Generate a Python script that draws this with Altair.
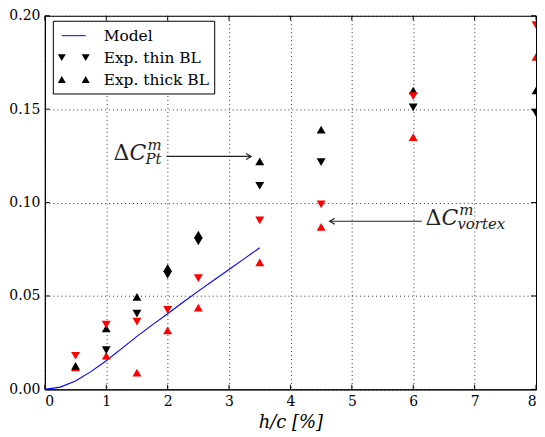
import altair as alt
import pandas as pd

# ---------------- data ----------------
x_ticks = [0, 1, 2, 3, 4, 5, 6, 7, 8]
y_ticks = [0.0, 0.05, 0.10, 0.15, 0.20]

model_x = [0.0, 0.25, 0.5, 0.75, 1.0, 1.25, 1.5, 1.75, 2.0, 2.25, 2.5, 2.75, 3.0, 3.25, 3.5]
model_y = [0.0, 0.0012, 0.0045, 0.0095, 0.0153, 0.0218, 0.0284, 0.0345, 0.0405,
           0.0466, 0.0526, 0.0584, 0.0642, 0.0700, 0.0758]

# thin BL (down triangles): black = Pt, red = vortex
thin_pt_x = [1.0, 1.5, 2.0, 2.5, 3.5, 4.5, 6.0, 8.0]
thin_pt_y = [0.021, 0.0405, 0.0613, 0.0792, 0.109, 0.1216, 0.151, 0.148]
thin_vx_x = [0.5, 1.0, 1.5, 2.0, 2.5, 3.5, 4.5, 6.0, 8.0]
thin_vx_y = [0.018, 0.0347, 0.0363, 0.0426, 0.0595, 0.0905, 0.099, 0.157, 0.195]
# thick BL (up triangles)
thick_pt_x = [0.5, 1.0, 1.5, 2.0, 2.5, 3.5, 4.5, 6.0, 8.0]
thick_pt_y = [0.0126, 0.0326, 0.0495, 0.065, 0.0829, 0.122, 0.139, 0.160, 0.160]
thick_vx_x = [0.5, 1.0, 1.5, 2.0, 2.5, 3.5, 4.5, 6.0, 8.0]
thick_vx_y = [0.0117, 0.018, 0.009, 0.0316, 0.0437, 0.068, 0.087, 0.135, 0.178]

legend_names = ["Model", "Exp. thin BL", "Exp. thick BL"]

ann_sub = ["Pt", "vortex"]
ann_text_x = [1.12, 6.20]
ann_text_y = [0.1226, 0.0879]
arrow_from_x = [1.98, 6.14]
arrow_to_x = [3.36, 4.64]
arrow_y = [0.1247, 0.090]

# ---------------- styling ----------------
FONT = "DejaVu Serif"
X_MAX, Y_MAX = 8, 0.20

xenc = alt.X("x:Q", scale=alt.Scale(domain=[0, X_MAX], nice=False, zero=False),
             axis=alt.Axis(values=x_ticks, format="d", title="h/c [%]"))
yenc = alt.Y("y:Q", scale=alt.Scale(domain=[0, Y_MAX], nice=False, zero=False),
             axis=alt.Axis(values=y_ticks, format=".2f", title=None))

# inward tick marks along all four sides
tl_x, tl_y = X_MAX * 0.01, Y_MAX * 0.0125
tick_rows = []
for t in x_ticks:
    tick_rows.append(dict(x=t, x2=t, y=0, y2=tl_y))
    tick_rows.append(dict(x=t, x2=t, y=Y_MAX, y2=Y_MAX - tl_y))
for t in y_ticks:
    tick_rows.append(dict(x=0, x2=tl_x, y=t, y2=t))
    tick_rows.append(dict(x=X_MAX, x2=X_MAX - tl_x, y=t, y2=t))
ticks = alt.Chart(pd.DataFrame(tick_rows)).mark_rule(color="black", strokeWidth=1).encode(
    x=xenc, y=yenc, x2="x2:Q", y2="y2:Q")

model = alt.Chart(pd.DataFrame({"x": model_x, "y": model_y})).mark_line(
    color="#0000ff", strokeWidth=1.1).encode(x=xenc, y=yenc)


def pts(xv, yv, color, shape):
    return alt.Chart(pd.DataFrame({"x": xv, "y": yv})).mark_point(
        filled=True, color=color, shape=shape, size=80, opacity=1, clip=True
    ).encode(x=xenc, y=yenc)


p1 = pts(thick_vx_x, thick_vx_y, "#ff0000", "triangle-up")
p2 = pts(thick_pt_x, thick_pt_y, "#000000", "triangle-up")
p3 = pts(thin_vx_x, thin_vx_y, "#ff0000", "triangle-down")
p4 = pts(thin_pt_x, thin_pt_y, "#000000", "triangle-down")

arr = pd.DataFrame({"x": arrow_from_x, "x2": arrow_to_x, "y": arrow_y})
arrow_line = alt.Chart(arr).mark_rule(color="#222222", strokeWidth=1.2).encode(
    x=xenc, x2="x2:Q", y=yenc)
head = pd.DataFrame({"x": arrow_to_x, "y": arrow_y,
                     "ang": [0 if t > f else 180 for f, t in zip(arrow_from_x, arrow_to_x)]})
arrow_head = alt.Chart(head).mark_point(
    shape="M -1 -0.6 L 0 0 L -1 0.6", filled=False, color="#222222",
    strokeWidth=1.2, size=100, opacity=1).encode(x=xenc, y=yenc, angle=alt.Angle("ang:Q", scale=None))

ann = pd.DataFrame({"x": ann_text_x, "y": ann_text_y, "sub": ann_sub})


def txt(text, dx, dy, size, style):
    enc = dict(x=xenc, y=yenc)
    if text is None:
        enc["text"] = alt.Text("sub:N")
        t = {}
    else:
        t = {"text": text}
    return alt.Chart(ann).mark_text(
        align="left", baseline="alphabetic", dx=dx, dy=dy, font=FONT,
        fontSize=size, fontStyle=style, color="#222222", **t).encode(**enc)


t_delta = txt("Δ", 0, 0, 22, "normal")
t_c = txt("C", 16, 0, 22, "italic")
t_m = txt("m", 34, -10, 15, "italic")
t_sub = txt(None, 32, 4, 15, "italic")

# legend (custom double-symbol entries)
legend_paths = [
    "M -1.2 -0.05 L 1.2 -0.05 L 1.2 0.05 L -1.2 0.05 Z",
    "M -1.6 -0.35 L -0.8 -0.35 L -1.2 0.35 Z M 0.8 -0.35 L 1.6 -0.35 L 1.2 0.35 Z",
    "M -1.6 0.35 L -0.8 0.35 L -1.2 -0.35 Z M 0.8 0.35 L 1.6 0.35 L 1.2 -0.35 Z",
]
leg = alt.Legend(title=None, orient="none", legendX=8, legendY=5, padding=5,
                 fillColor="white", strokeColor="black", cornerRadius=0,
                 symbolSize=400, symbolStrokeWidth=0, symbolOffset=6,
                 labelOffset=20, labelFont=FONT, labelFontSize=15.5,
                 labelColor="black", rowPadding=3, symbolOpacity=1)
legend_layer = alt.Chart(pd.DataFrame({"x": [None] * 3, "y": [None] * 3,
                                       "series": legend_names})).mark_point(
    filled=True, size=400).encode(
    x=xenc, y=yenc,
    shape=alt.Shape("series:N", scale=alt.Scale(domain=legend_names, range=legend_paths), legend=leg),
    color=alt.Color("series:N", scale=alt.Scale(domain=legend_names,
                                               range=["#0000ff", "#000000", "#000000"]), legend=leg),
)

chart = alt.layer(
    ticks, model, p1, p2, p3, p4, arrow_line, arrow_head,
    t_delta, t_c, t_m, t_sub, legend_layer
).properties(
    width=493, height=375,
    padding={"left": 0, "top": 0, "right": 0, "bottom": 0},
).configure_view(stroke="black", strokeWidth=1).configure_axis(
    grid=True, gridColor="black", gridDash=[1, 3], gridOpacity=1, gridWidth=0.8,
    domainColor="black", domainWidth=1, ticks=False,
    labelFont=FONT, labelFontSize=14, labelColor="black", labelPadding=5,
    titleFont=FONT, titleFontSize=18, titleFontStyle="italic", titleFontWeight="normal",
    titleColor="black", titlePadding=5,
)

chart.save("out.html", embed_options={"renderer": "svg", "actions": False})
